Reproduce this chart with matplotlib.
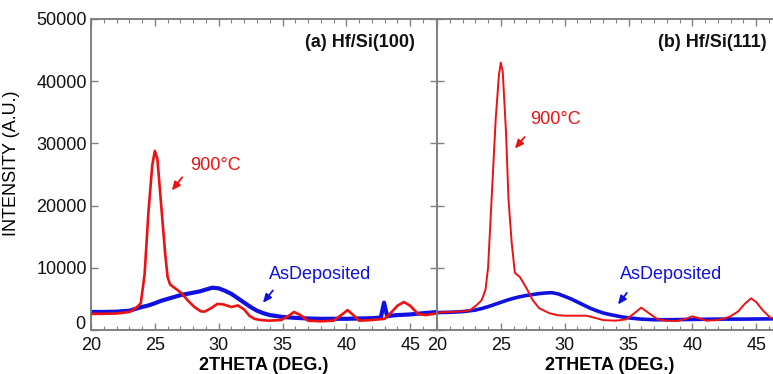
import matplotlib
matplotlib.use("Agg")
import matplotlib.pyplot as plt
from matplotlib.ticker import MultipleLocator, FuncFormatter
from matplotlib.transforms import offset_copy

plt.rcParams["font.family"] = ["Liberation Sans", "DejaVu Sans"]

RED = "#ee1111"
BLUE = "#1010e0"
GRAY = "#808080"

# (a) Hf/Si(100)
a_900_x = [20, 21, 22, 23, 23.5, 23.9, 24.2, 24.5, 24.8, 25.0, 25.2, 25.5, 25.8, 26.0, 26.2,
           26.6, 27.1, 27.6, 28.1, 28.6, 28.9, 29.4, 29.9, 30.4, 31.0, 31.5, 32.0, 32.4, 32.8,
           33.3, 33.9, 34.9, 35.5, 35.9, 36.4, 37.0, 38.0, 39.0, 39.6, 40.1, 40.6, 41.0, 42.0,
           43.0, 43.6, 44.0, 44.5, 45.0, 45.6, 46.2, 47.2]
a_900_y = [2600, 2600, 2650, 2900, 3500, 4300, 9000, 19000, 26500, 28800, 27500, 20000, 12500,
           8500, 7300, 6700, 5900, 4700, 3700, 3000, 2950, 3500, 4200, 4100, 3700, 3950, 3300,
           2300, 1800, 1600, 1500, 1600, 2300, 2900, 2400, 1500, 1400, 1500, 2400, 3200, 2300,
           1500, 1600, 1800, 3000, 3900, 4500, 3900, 2600, 2400, 2700]
a_dep_x = [20, 21, 22, 23, 23.5, 24, 24.5, 25, 25.5, 26, 26.5, 27, 27.5, 28, 28.5, 29, 29.5,
           30, 30.5, 31, 31.5, 32, 32.5, 33, 33.5, 34, 35, 36, 37, 38, 39, 40, 41, 42, 42.7,
           42.95, 43.2, 43.5, 44, 45, 46, 47.2]
a_dep_y = [2900, 2900, 2950, 3100, 3400, 3700, 3950, 4300, 4700, 5000, 5300, 5600, 5800, 6000,
           6200, 6500, 6800, 6700, 6300, 5800, 5100, 4400, 3700, 3100, 2700, 2400, 2100, 1950,
           1850, 1800, 1800, 1800, 1850, 1900, 2000, 4400, 2200, 2300, 2400, 2500, 2700, 2900]

# (b) Hf/Si(111)
b_900_x = [20, 21, 22, 22.6, 23.1, 23.5, 23.8, 24.0, 24.3, 24.6, 24.85, 25.0, 25.15, 25.4,
           25.6, 25.85, 26.1, 26.5, 27.0, 27.5, 28.0, 28.8, 29.4, 30.0, 31.0, 31.7, 32.3, 33.0,
           34.0, 34.8, 35.4, 36.0, 36.6, 37.3, 38.0, 38.8, 39.5, 40.0, 40.5, 41.1, 42.0, 42.9,
           43.6, 44.1, 44.6, 45.0, 45.5, 46.1, 46.6]
b_900_y = [2800, 2900, 3000, 3200, 4000, 4800, 6500, 10000, 22000, 34000, 41000, 43000, 41500,
           32000, 21000, 14000, 9200, 8500, 6750, 4800, 3500, 2700, 2400, 2300, 2300, 2300,
           2000, 1600, 1500, 1700, 2600, 3600, 2700, 1700, 1500, 1450, 1800, 2200, 1900, 1500,
           1600, 2100, 3000, 4200, 5100, 4500, 3200, 2000, 1800]
b_dep_x = [20, 21, 22, 23, 23.5, 24, 24.5, 25, 25.5, 26, 26.5, 27, 27.5, 28, 28.5, 29, 29.5,
           30, 30.5, 31, 31.5, 32, 32.5, 33, 33.5, 34, 34.5, 35, 36, 37, 38, 40, 42, 44, 46.6]
b_dep_y = [2800, 2850, 2950, 3200, 3450, 3750, 4100, 4450, 4800, 5100, 5350, 5550, 5700, 5850,
           5950, 6000, 5800, 5400, 5000, 4500, 4000, 3500, 3100, 2750, 2500, 2300, 2100, 1950,
           1750, 1650, 1650, 1700, 1750, 1750, 1800]

panels = [
    dict(title="(a) Hf/Si(100)", title_x=0.935, red=(a_900_x, a_900_y), blue=(a_dep_x, a_dep_y),
         red_lw=1.9, blue_lw=3.0,
         t900=(27.75, 26450), a900=((27.27, 24900), (26.2, 22080)),
         tdep=(33.95, 8850), adep=((34.38, 6700), (33.33, 4020))),
    dict(title="(b) Hf/Si(111)", title_x=0.952, red=(b_900_x, b_900_y), blue=(b_dep_x, b_dep_y),
         red_lw=1.4, blue_lw=2.6,
         t900=(27.32, 33770), a900=((27.0, 31360), (25.96, 28830)),
         tdep=(34.35, 8850), adep=((35.0, 6320), (34.04, 3750))),
]

fig = plt.figure(figsize=(7.73, 3.74), dpi=100)
W, H = 773.0, 374.0
lefts = [91, 437]

for i, pn in enumerate(panels):
    ax = fig.add_axes([lefts[i] / W, 44 / H, 346 / W, 311 / H])
    ax.plot(*pn["blue"], color=BLUE, lw=pn["blue_lw"], zorder=2)
    ax.plot(*pn["red"], color=RED, lw=pn["red_lw"], zorder=3)

    ax.set_xlim(20, 47.1)
    ax.set_ylim(0, 50000)
    ax.xaxis.set_major_locator(MultipleLocator(5))
    ax.xaxis.set_minor_locator(MultipleLocator(1))
    ax.yaxis.set_major_locator(MultipleLocator(10000))
    ax.tick_params(which="both", direction="in", top=True, right=True, color=GRAY,
                   labelsize=13, labelcolor="#111111")
    ax.tick_params(axis="x", pad=5)
    ax.tick_params(axis="y", pad=3)
    ax.tick_params(which="major", length=5, width=1)
    ax.tick_params(which="minor", length=3, width=0.8)
    for s in ax.spines.values():
        s.set_color(GRAY)
        s.set_linewidth(1.4)

    if i == 0:
        ax.set_ylabel("INTENSITY (A.U.)", fontsize=13)
        ax.yaxis.set_label_coords(-0.205, 0.537)
        # the "0" sits just above the x axis, clear of the "20" below it
        ax.yaxis.set_major_formatter(FuncFormatter(lambda v, pos: "" if v == 0 else f"{v:.0f}"))
        zero_tr = offset_copy(ax.get_yaxis_transform(), fig=fig, x=0, y=-3, units="dots")
        ax.text(-0.016, 0, "0", transform=zero_tr, ha="right", va="bottom",
                fontsize=13, color="#111111")
    else:
        ax.tick_params(labelleft=False)

    ax.set_xlabel("2THETA (DEG.)", fontsize=13, fontweight="bold", labelpad=2)

    ax.text(pn["title_x"], 0.923, pn["title"], transform=ax.transAxes, ha="right",
            va="center", fontsize=13, fontweight="bold", color="#111111")

    ax.text(pn["t900"][0], pn["t900"][1], "900°C", color=RED, fontsize=13,
            ha="left", va="center")
    ax.annotate("", xy=pn["a900"][1], xytext=pn["a900"][0],
                arrowprops=dict(arrowstyle="-|>,head_length=0.5,head_width=0.22",
                                color=RED, lw=1.3))
    ax.text(pn["tdep"][0], pn["tdep"][1], "AsDeposited", color=BLUE, fontsize=13,
            ha="left", va="center")
    ax.annotate("", xy=pn["adep"][1], xytext=pn["adep"][0],
                arrowprops=dict(arrowstyle="-|>,head_length=0.5,head_width=0.22",
                                color=BLUE, lw=1.3))

fig.savefig("out.png", dpi=100)
